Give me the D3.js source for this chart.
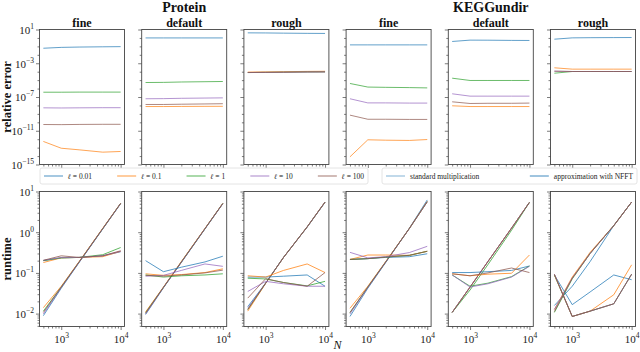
<!DOCTYPE html>
<html lang="en">
<head>
<meta charset="utf-8">
<title>Relative error and runtime</title>
<script src="https://d3js.org/d3.v7.min.js"></script>
<style>
body{margin:0;background:#fff;}
text{font-family:"Liberation Serif",serif;fill:#111;}
.title{font-size:14px;font-weight:bold;}
.sub{font-size:12px;font-weight:bold;}
.ylab{font-size:12.5px;font-weight:bold;}
.tick text{font-size:11px;fill:#222;}
.legend text{font-size:7.5px;fill:#222;}
</style>
</head>
<body>
<script>
// ---- data ----
const N = [500, 1000, 2000, 5000, 10000];
const lengthScales = ["0.01", "0.1", "1", "10", "100"];
const colors = ["#1f77b4", "#ff7f0e", "#2ca02c", "#9467bd", "#8c564b"];
const datasets = ["Protein", "KEGGundir"];
const settings = ["fine", "default", "rough"];
const errTicks = [1e1, 1e-3, 1e-7, 1e-11, 1e-15];
const timeTicks = [1e1, 1e0, 1e-1, 1e-2];
const nTicks = [1e3, 1e4];
const methods = ["standard multiplication", "approximation with NFFT"];

// relative error, one row per length scale (0.01, 0.1, 1, 10, 100)
const proteinFineErr = [
  [6.0e-2, 7.6e-2, 8.3e-2, 8.9e-2, 9.3e-2],
  [5.4e-13, 8.5e-14, 5.5e-14, 2.9e-14, 3.5e-14],
  [3.7e-7, 3.7e-7, 3.8e-7, 3.8e-7, 3.8e-7],
  [5.2e-9, 5.0e-9, 5.2e-9, 5.4e-9, 5.4e-9],
  [5.5e-11, 5.3e-11, 5.6e-11, 5.8e-11, 5.8e-11]];
const proteinDefaultErr = [
  [1.0, 1.0, 1.0, 1.0, 1.0],
  [7.4e-9, 7.4e-9, 7.6e-9, 7.8e-9, 7.9e-9],
  [5.2e-6, 5.4e-6, 6.0e-6, 6.5e-6, 6.9e-6],
  [6.2e-8, 6.4e-8, 7.0e-8, 7.5e-8, 7.9e-8],
  [1.3e-8, 1.3e-8, 1.4e-8, 1.5e-8, 1.6e-8]];
const proteinRoughErr = [
  [4.0, 3.9, 3.7, 3.5, 3.4],
  [8.9e-5, 9.5e-5, 1.0e-4, 1.08e-4, 1.12e-4],
  [7.9e-5, 8.3e-5, 8.7e-5, 9.3e-5, 9.5e-5],
  [7.9e-5, 8.2e-5, 8.6e-5, 9.2e-5, 9.4e-5],
  [8.0e-5, 8.3e-5, 8.7e-5, 9.3e-5, 9.5e-5]];
const keggFineErr = [
  [0.15, 0.15, 0.15, 0.15, 0.15],
  [8.1e-15, 8.5e-13, 7.6e-13, 7.1e-13, 9.1e-13],
  [4.0e-6, 1.5e-6, 1.4e-6, 1.3e-6, 1.2e-6],
  [6.2e-8, 2.0e-8, 2.0e-8, 1.9e-8, 1.9e-8],
  [7.1e-10, 2.3e-10, 2.3e-10, 2.2e-10, 2.2e-10]];
const keggDefaultErr = [
  [0.38, 0.55, 0.54, 0.51, 0.50],
  [9.1e-9, 7.4e-9, 7.4e-9, 7.4e-9, 7.4e-9],
  [1.7e-5, 9.1e-6, 9.1e-6, 9.1e-6, 9.1e-6],
  [2.4e-7, 1.26e-7, 1.26e-7, 1.26e-7, 1.26e-7],
  [2.7e-8, 1.7e-8, 1.8e-8, 1.8e-8, 1.9e-8]];
const keggRoughErr = [
  [0.71, 1.02, 1.07, 1.10, 1.12],
  [2.9e-4, 2.0e-4, 2.0e-4, 2.0e-4, 2.0e-4],
  [6.6e-5, 1.05e-4, 1.05e-4, 1.05e-4, 1.05e-4],
  [1.15e-4, 1.05e-4, 1.05e-4, 1.05e-4, 1.05e-4],
  [1.15e-4, 1.05e-4, 1.05e-4, 1.05e-4, 1.05e-4]];

// runtime, standard multiplication
const proteinFineStd = [
  [0.0089, 0.042, 0.18, 1.2, 5.0],
  [0.014, 0.047, 0.19, 1.25, 5.1],
  [0.0115, 0.045, 0.185, 1.22, 5.1],
  [0.0098, 0.044, 0.183, 1.22, 5.05],
  [0.0107, 0.0447, 0.186, 1.23, 5.13]];
const proteinDefaultStd = [
  [0.0095, 0.043, 0.18, 1.2, 5.0],
  [0.011, 0.045, 0.19, 1.24, 5.1],
  [0.0105, 0.044, 0.185, 1.22, 5.1],
  [0.0098, 0.044, 0.183, 1.22, 5.05],
  [0.0102, 0.044, 0.185, 1.22, 5.1]];
const proteinRoughStd = [
  [0.0148, 0.056, 0.24, 1.33, 5.4],
  [0.0115, 0.055, 0.24, 1.35, 5.5],
  [0.0126, 0.056, 0.24, 1.35, 5.5],
  [0.0135, 0.056, 0.24, 1.35, 5.5],
  [0.0126, 0.056, 0.24, 1.35, 5.5]];
const keggFineStd = [
  [0.0085, 0.042, 0.18, 1.25, 6.2],
  [0.0135, 0.047, 0.19, 1.24, 5.7],
  [0.0105, 0.045, 0.186, 1.23, 5.6],
  [0.0098, 0.044, 0.185, 1.23, 5.6],
  [0.0107, 0.0447, 0.186, 1.23, 5.6]];
const keggDefaultStd = [
  [0.0107, 0.0447, 0.19, 1.26, 5.4],
  [0.0107, 0.0447, 0.19, 1.26, 5.4],
  [0.0107, 0.038, 0.16, 1.12, 5.4],
  [0.0107, 0.0447, 0.19, 1.26, 5.4],
  [0.0107, 0.0447, 0.19, 1.26, 5.4]];
const keggRoughStd = [
  [0.0158, 0.047, 0.19, 1.45, 5.5],
  [0.0126, 0.079, 0.32, 1.45, 5.5],
  [0.0107, 0.071, 0.30, 1.45, 5.5],
  [0.0126, 0.074, 0.30, 1.45, 5.5],
  [0.0112, 0.074, 0.30, 1.45, 5.5]];

// runtime, approximation with NFFT
const proteinFineNfft = [
  [0.20, 0.234, 0.24, 0.263, 0.33],
  [0.18, 0.234, 0.24, 0.25, 0.34],
  [0.20, 0.234, 0.24, 0.28, 0.42],
  [0.204, 0.24, 0.24, 0.263, 0.34],
  [0.204, 0.263, 0.24, 0.263, 0.35]];
const proteinDefaultNfft = [
  [0.20, 0.107, 0.138, 0.186, 0.257],
  [0.095, 0.087, 0.091, 0.102, 0.126],
  [0.089, 0.079, 0.085, 0.089, 0.095],
  [0.083, 0.087, 0.115, 0.166, 0.145],
  [0.087, 0.083, 0.089, 0.10, 0.117]];
const proteinRoughNfft = [
  [0.079, 0.079, 0.083, 0.089, 0.047],
  [0.085, 0.079, 0.115, 0.166, 0.102],
  [0.074, 0.071, 0.058, 0.048, 0.062],
  [0.035, 0.062, 0.054, 0.047, 0.047],
  [0.024, 0.072, 0.058, 0.047, 0.102]];
const keggFineNfft = [
  [0.214, 0.224, 0.24, 0.25, 0.295],
  [0.214, 0.275, 0.275, 0.27, 0.34],
  [0.214, 0.224, 0.245, 0.27, 0.34],
  [0.32, 0.234, 0.25, 0.316, 0.45],
  [0.214, 0.224, 0.245, 0.27, 0.34]];
const keggDefaultNfft = [
  [0.102, 0.102, 0.107, 0.115, 0.148],
  [0.095, 0.085, 0.093, 0.098, 0.275],
  [0.089, 0.047, 0.056, 0.081, 0.148],
  [0.089, 0.045, 0.054, 0.079, 0.145],
  [0.095, 0.085, 0.10, 0.132, 0.102]];
const keggRoughNfft = [
  [0.089, 0.0166, 0.034, 0.089, 0.068],
  [0.089, 0.0085, 0.0115, 0.029, 0.158],
  [0.089, 0.0085, 0.0115, 0.0174, 0.093],
  [0.093, 0.0085, 0.0115, 0.0174, 0.093],
  [0.093, 0.0085, 0.0115, 0.0174, 0.093]];

const panels = [
  {err: proteinFineErr, std: proteinFineStd, nfft: proteinFineNfft},
  {err: proteinDefaultErr, std: proteinDefaultStd, nfft: proteinDefaultNfft},
  {err: proteinRoughErr, std: proteinRoughStd, nfft: proteinRoughNfft},
  {err: keggFineErr, std: keggFineStd, nfft: keggFineNfft},
  {err: keggDefaultErr, std: keggDefaultStd, nfft: keggDefaultNfft},
  {err: keggRoughErr, std: keggRoughStd, nfft: keggRoughNfft}];

// ---- layout ----
const w = 640, h = 352;
const pw = 85, ph = 135;
const left0 = 39.5, step = 102.2;
const topErr = 29.5, topTime = 191.5;

const svg = d3.select("body").append("svg")
  .attr("width", w).attr("height", h);

// x: 5% log margin each side of the N range, as matplotlib does
const span = Math.log10(N[N.length - 1]) - Math.log10(N[0]);
const x = d3.scaleLog()
  .domain([N[0] / 10 ** (0.05 * span), N[N.length - 1] * 10 ** (0.05 * span)])
  .range([0, pw]);
const yErr = d3.scaleLog().domain([1e-15, 1e1]).range([ph, 0]);
const yTime = d3.scaleLog().domain([10 ** -2.317, 1e1]).range([ph, 0]);

const line = y => d3.line().x((d, i) => x(N[i])).y(d => y(d));

// superscript labels like 10^-3
function powLabel(sel) {
  sel.each(function(d) {
    const t = d3.select(this).text("");
    const e = Math.round(Math.log10(d));
    t.append("tspan").text("10");
    t.append("tspan").attr("dy", -5).attr("font-size", "7.5px")
      .text(e < 0 ? "\u2212" + (-e) : e);
  });
}

function minorLog(scale, skip) {
  const [a, b] = scale.domain();
  const out = [];
  for (let k = Math.floor(Math.log10(a)); k <= Math.ceil(Math.log10(b)); k++) {
    for (let m = 1; m < 10; m++) {
      const v = m * 10 ** k;
      if (v >= a && v <= b && !skip.some(s => Math.abs(s - v) / v < 1e-9)) out.push(v);
    }
  }
  return out;
}
const errMinor = d3.range(-15, 2).map(k => 10 ** k)
  .filter(v => !errTicks.some(s => Math.abs(s - v) / v < 1e-9));
const timeMinor = minorLog(yTime, timeTicks);
const nMinor = minorLog(x, nTicks);

function drawPanel(g, y, yMajor, yMinor, showY, showX) {
  g.append("rect").attr("width", pw).attr("height", ph)
    .attr("fill", "#fff");
  // y axis
  const ya = g.append("g").attr("class", "axis")
    .call(d3.axisLeft(y).tickValues(yMajor).tickSize(3.5).tickPadding(2));
  if (showY) ya.selectAll(".tick text").call(powLabel).attr("dy", "0.35em");
  else ya.selectAll(".tick text").remove();
  g.append("g").call(d3.axisLeft(y).tickValues(yMinor).tickSize(2).tickFormat(""));
  // x axis
  const xa = g.append("g").attr("transform", `translate(0,${ph})`)
    .call(d3.axisBottom(x).tickValues(nTicks).tickSize(3.5).tickPadding(2));
  if (showX) xa.selectAll(".tick text").call(powLabel).attr("dy", "1.0em");
  else xa.selectAll(".tick text").remove();
  g.append("g").attr("transform", `translate(0,${ph})`)
    .call(d3.axisBottom(x).tickValues(nMinor).tickSize(2).tickFormat(""));
  g.selectAll(".domain").remove();
  g.selectAll(".tick line").attr("stroke", "#444").attr("stroke-width", 0.7);
}

function frame(g) {
  g.append("rect").attr("width", pw).attr("height", ph)
    .attr("fill", "none").attr("stroke", "#444").attr("stroke-width", 0.9);
}

panels.forEach((p, j) => {
  const gx = left0 + j * step;
  // relative error row
  const ge = svg.append("g").attr("transform", `translate(${gx},${topErr})`);
  drawPanel(ge, yErr, errTicks, errMinor, j === 0, false);
  ge.selectAll("path.err").data(p.err).enter().append("path")
    .attr("class", "err")
    .attr("d", line(yErr))
    .attr("fill", "none")
    .attr("stroke", (d, i) => colors[i])
    .attr("stroke-width", 1)
    .attr("stroke-opacity", 0.7);
  frame(ge);

  // runtime row
  const gt = svg.append("g").attr("transform", `translate(${gx},${topTime})`);
  drawPanel(gt, yTime, timeTicks, timeMinor, j === 0, true);
  gt.selectAll("path.std").data(p.std).enter().append("path")
    .attr("class", "std")
    .attr("d", line(yTime))
    .attr("fill", "none")
    .attr("stroke", (d, i) => colors[i])
    .attr("stroke-width", 1)
    .attr("stroke-opacity", 0.75);
  gt.selectAll("path.nfft").data(p.nfft).enter().append("path")
    .attr("class", "nfft")
    .attr("d", line(yTime))
    .attr("fill", "none")
    .attr("stroke", (d, i) => colors[i])
    .attr("stroke-width", 1)
    .attr("stroke-opacity", 0.75);
  frame(gt);

  // column subtitle
  svg.append("text").attr("class", "sub")
    .attr("x", gx + pw / 2).attr("y", 26.5)
    .attr("text-anchor", "middle").text(settings[j % 3]);
});

// dataset titles
datasets.forEach((name, k) => {
  const x0 = left0 + 3 * k * step;
  const x1 = left0 + (3 * k + 2) * step + pw;
  svg.append("text").attr("class", "title")
    .attr("x", (x0 + x1) / 2).attr("y", 12)
    .attr("text-anchor", "middle").text(name);
});

// axis labels
svg.append("text").attr("class", "ylab")
  .attr("transform", `translate(11,${topErr + ph / 2}) rotate(-90)`)
  .attr("text-anchor", "middle").text("relative error");
svg.append("text").attr("class", "ylab")
  .attr("transform", `translate(11,${topTime + ph / 2}) rotate(-90)`)
  .attr("text-anchor", "middle").text("runtime");
svg.append("text")
  .attr("x", (left0 + 5 * step + pw + left0) / 2).attr("y", 349)
  .attr("text-anchor", "middle").attr("font-style", "italic")
  .attr("font-size", "12px").text("N");

// legends (items spread over the box like mode="expand")
function legend(x0, x1, labels) {
  const g = svg.append("g").attr("class", "legend");
  g.append("rect").attr("x", x0).attr("y", 168).attr("width", x1 - x0).attr("height", 16)
    .attr("rx", 2).attr("fill", "#fff").attr("stroke", "#ddd").attr("stroke-width", 0.8);
  const items = labels.map(lab => {
    const it = g.append("g");
    it.append("line").attr("x1", 0).attr("x2", 19).attr("y1", 0).attr("y2", 0)
      .attr("stroke", lab.color).attr("stroke-width", 1).attr("stroke-opacity", lab.op);
    const t = it.append("text").attr("x", 24).attr("y", 2.5);
    if (lab.ell) {
      t.append("tspan").attr("font-family", "DejaVu Serif").attr("font-style", "italic")
        .attr("font-size", "7px").text("\u2113");
      t.append("tspan").text(" = " + lab.text);
    } else {
      t.text(lab.text);
    }
    return {it, wid: 24 + t.node().getComputedTextLength()};
  });
  const total = d3.sum(items, d => d.wid);
  const gap = (x1 - x0 - 8 - total) / (items.length - 1);
  let cx = x0 + 4;
  items.forEach(d => {
    d.it.attr("transform", `translate(${cx},176)`);
    cx += d.wid + gap;
  });
}
legend(40, 368, lengthScales.map((s, i) => ({text: s, ell: true, color: colors[i], op: 0.8})));
legend(382, 637, methods.map((m, i) => ({text: m, color: colors[0], op: i === 0 ? 0.55 : 0.85})));
</script>
</body>
</html>
